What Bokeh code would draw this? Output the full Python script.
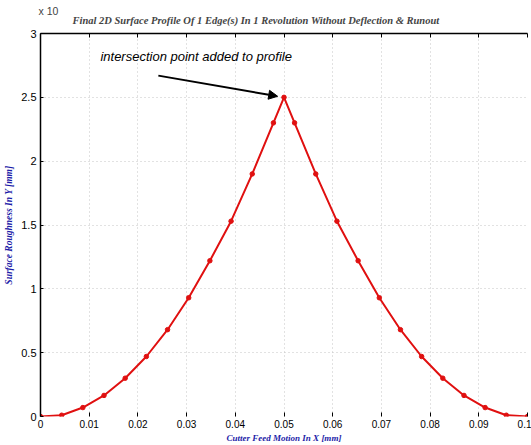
from bokeh.plotting import figure
from bokeh.models import Range1d, FixedTicker, LinearAxis, Label, Arrow, NormalHead, Title
from bokeh.embed import file_html
from bokeh.resources import INLINE

# ---- data ----
x_mm = [0.0, 0.00435, 0.0087, 0.01304, 0.01739, 0.02174, 0.02609, 0.03043,
        0.03478, 0.03913, 0.04348, 0.04783, 0.05, 0.05217, 0.05652, 0.06087,
        0.06522, 0.06957, 0.07391, 0.07826, 0.08261, 0.08696, 0.0913, 0.09565, 0.1]
y_rough = [0.0, 0.01, 0.07, 0.165, 0.30, 0.47, 0.68, 0.93,
           1.22, 1.53, 1.90, 2.30, 2.50, 2.30, 1.90, 1.53,
           1.22, 0.93, 0.68, 0.47, 0.30, 0.165, 0.07, 0.01, 0.0]

x_ticks = [0, 0.01, 0.02, 0.03, 0.04, 0.05, 0.06, 0.07, 0.08, 0.09, 0.1]
x_tick_labels = ["0", "0.01", "0.02", "0.03", "0.04", "0.05", "0.06", "0.07", "0.08", "0.09", "0.1"]
y_ticks = [0, 0.5, 1, 1.5, 2, 2.5, 3]
y_tick_labels = ["0", "0.5", "1", "1.5", "2", "2.5", "3"]

title_text = "Final 2D Surface Profile Of 1 Edge(s) In 1 Revolution Without Deflection & Runout"
x_label = "Cutter Feed Motion In X [mm]"
y_label = "Surface Roughness In Y [mm]"
note_text = "intersection point added to profile"
exp_text = "x 10"
peak_x, peak_y = 0.05, 2.50

SERIF = "Liberation Serif"
SANS = "Liberation Sans"
BLUE = "#1c1ca8"

p = figure(width=531, height=445, output_backend="svg", toolbar_location=None,
           x_range=Range1d(0, 0.1), y_range=Range1d(0, 3), title=None,
           min_border_left=40, min_border_right=4, min_border_top=33, min_border_bottom=29)
p.outline_line_color = None
p.background_fill_color = "white"
p.border_fill_color = "white"

# bottom axis
xa = p.xaxis[0]
xa.ticker = FixedTicker(ticks=x_ticks)
xa.major_label_overrides = {t: l for t, l in zip(x_ticks, x_tick_labels)}
xa.axis_line_color = None
xa.major_tick_in = 4
xa.major_tick_out = 0
xa.minor_tick_line_color = None
xa.major_label_standoff = 3
xa.major_label_text_font = SANS
xa.major_label_text_font_size = "10px"
xa.major_label_text_color = "black"
xa.axis_label = x_label
xa.axis_label_text_font = SERIF
xa.axis_label_text_font_style = "bold italic"
xa.axis_label_text_font_size = "9px"
xa.axis_label_text_color = BLUE
xa.axis_label_standoff = 2

# left axis
ya = p.yaxis[0]
ya.ticker = FixedTicker(ticks=y_ticks)
ya.major_label_overrides = {t: l for t, l in zip(y_ticks, y_tick_labels)}
ya.axis_line_color = "black"
ya.axis_line_width = 1.5
ya.major_tick_in = 3
ya.major_tick_out = 0
ya.minor_tick_line_color = None
ya.major_label_standoff = 4
ya.major_label_text_font = SANS
ya.major_label_text_font_size = "11px"
ya.major_label_text_color = "black"
ya.axis_label = y_label
ya.axis_label_text_font = SERIF
ya.axis_label_text_font_style = "bold italic"
ya.axis_label_text_font_size = "9.5px"
ya.axis_label_text_color = BLUE
ya.axis_label_standoff = 4

# top border as an unlabeled axis
top = LinearAxis(ticker=FixedTicker(ticks=x_ticks),
                 major_label_text_color=None, major_label_text_font_size="1px",
                 major_label_standoff=0, major_tick_in=4, major_tick_out=0,
                 minor_tick_line_color=None, axis_line_color="black", axis_line_width=1.5)
p.add_layout(top, "above")

# main title (row nearest the frame) and the exponent (outer row)
p.add_layout(Title(text=title_text, text_font=SERIF, text_font_style="bold italic",
                   text_font_size="10.5px", align="left", offset=32, standoff=15), "above")
p.add_layout(Title(text=exp_text, text_font=SANS, text_font_style="normal",
                   text_font_size="10.5px", align="left", offset=-2, standoff=-23), "above")

# grid
for g in (p.xgrid[0], p.ygrid[0]):
    g.grid_line_color = "#c4c4c4"
    g.grid_line_dash = "1 3"
    g.grid_line_width = 1
p.xgrid[0].ticker = FixedTicker(ticks=x_ticks)
p.ygrid[0].ticker = FixedTicker(ticks=y_ticks)

# data
p.line(x_mm, y_rough, line_color="#e01010", line_width=2)
p.scatter(x_mm, y_rough, marker="circle", size=4.5, fill_color="#e01010", line_color="#e01010")

# annotation
p.add_layout(Label(x=0.0123, y=2.76, text=note_text, text_font=SANS,
                   text_font_style="italic", text_font_size="13px", text_color="black"))
p.add_layout(Arrow(end=NormalHead(size=9, fill_color="black", line_color="black"),
                   x_start=0.0242, y_start=2.67, x_end=peak_x - 0.0013, y_end=peak_y + 0.008,
                   line_width=2, line_color="black"))

open("out.html", "w").write(file_html(p, INLINE))
